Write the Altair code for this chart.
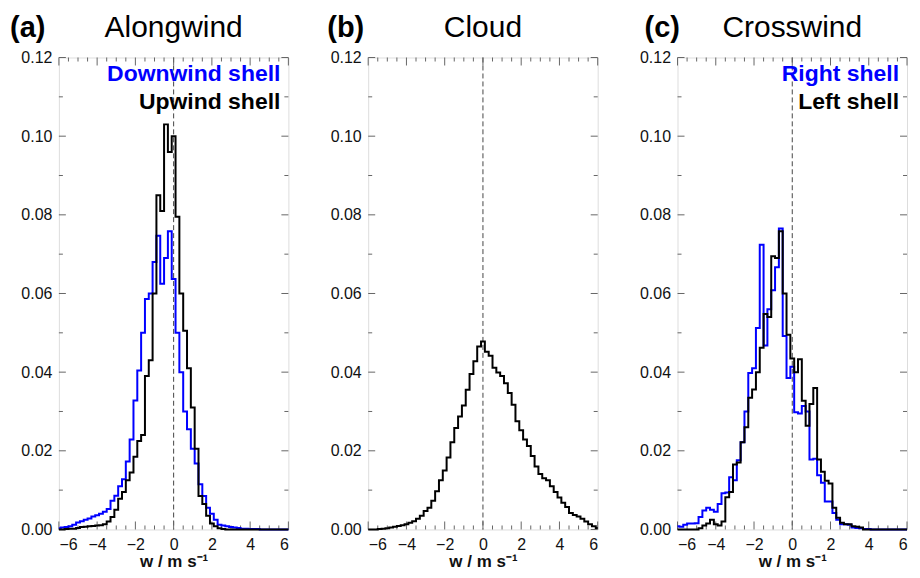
import altair as alt
import pandas as pd

# bin centres (w / m s^-1)
X = [-6.0, -5.8, -5.6, -5.4, -5.2, -5.0, -4.8, -4.6, -4.4, -4.2,
     -4.0, -3.8, -3.6, -3.4, -3.2, -3.0, -2.8, -2.6, -2.4, -2.2,
     -2.0, -1.8, -1.6, -1.4, -1.2, -1.0, -0.8, -0.6, -0.4, -0.2,
     0.0,
     0.2, 0.4, 0.6, 0.8, 1.0, 1.2, 1.4, 1.6, 1.8, 2.0,
     2.2, 2.4, 2.6, 2.8, 3.0, 3.2, 3.4, 3.6, 3.8, 4.0,
     4.2, 4.4, 4.6, 4.8, 5.0, 5.2, 5.4, 5.6, 5.8, 6.0]

# (a) Alongwind
A_UPWIND = [0, 0, 0.0001, 0.0002, 0.0002, 0.0004, 0.0006, 0.0007, 0.0008, 0.0009,
            0.001, 0.0011, 0.0013, 0.002, 0.0032, 0.005, 0.0078, 0.0095, 0.0125, 0.0145,
            0.0185, 0.0225, 0.024, 0.039, 0.043, 0.060, 0.085, 0.081, 0.103, 0.096,
            0.100,
            0.0795, 0.060, 0.0505, 0.041, 0.031, 0.0205, 0.0085, 0.0065, 0.0035, 0.0015,
            0.0008, 0.0003, 0.0001, 0, 0, 0, 0, 0, 0, 0,
            0, 0, 0, 0, 0, 0, 0, 0, 0, 0]
A_DOWNWIND = [0.0003, 0.0005, 0.0006, 0.0008, 0.0012, 0.0018, 0.0021, 0.0025, 0.0028, 0.0033,
              0.0036, 0.004, 0.0045, 0.0052, 0.0073, 0.0086, 0.011, 0.0128, 0.0173, 0.0229,
              0.0328, 0.0404, 0.050, 0.0586, 0.060, 0.068, 0.0747, 0.0625, 0.069, 0.0758,
              0.0637,
              0.050, 0.040, 0.030, 0.0255, 0.0205, 0.0168, 0.0115, 0.0085, 0.0055, 0.004,
              0.0025, 0.0012, 0.001, 0.0008, 0.0006, 0.0005, 0.0004, 0.0002, 0.0002, 0.0001,
              0.0001, 0.0001, 0, 0, 0, 0, 0, 0, 0, 0]

# (b) Cloud
B_CLOUD = [0, 0, 0, 0.0001, 0.0002, 0.0003, 0.0005, 0.0007, 0.0009, 0.0011,
           0.0013, 0.0017, 0.0021, 0.0027, 0.0035, 0.0047, 0.0055, 0.0073, 0.0097, 0.0125,
           0.015, 0.0183, 0.0222, 0.0258, 0.0287, 0.0315, 0.0355, 0.0395, 0.0428, 0.0465,
           0.0478,
           0.0452, 0.0442, 0.0411, 0.0399, 0.039, 0.0372, 0.0347, 0.0317, 0.0275, 0.0252,
           0.0229, 0.0212, 0.0187, 0.016, 0.0141, 0.013, 0.0125, 0.011, 0.0095, 0.0081,
           0.0068, 0.0057, 0.0042, 0.0037, 0.0033, 0.0027, 0.002, 0.0013, 0.0008, 0.0004]

# (c) Crosswind
C_RIGHT = [0.0008, 0.0007, 0.0012, 0.0015, 0.0015, 0.0016, 0.0032, 0.0048, 0.0055, 0.005,
           0.0045, 0.0065, 0.0092, 0.0094, 0.0133, 0.0125, 0.0176, 0.0222, 0.030, 0.0398,
           0.041, 0.0512, 0.0724, 0.0468, 0.056, 0.0608, 0.0667, 0.0765, 0.0492, 0.0385,
           0.0414,
           0.0298, 0.0295, 0.0314, 0.030, 0.0178, 0.018, 0.0138, 0.0119, 0.0071, 0.0071,
           0.0042, 0.0025, 0.0013, 0.0013, 0.0012, 0.0005, 0.0004, 0.0003, 0.0001, 0.0001,
           0, 0, 0, 0, 0, 0, 0, 0, 0, 0]
C_LEFT = [0, 0, 0, 0, 0, 0, 0.0003, 0.001, 0.0015, 0.0025,
          0.0013, 0.001, 0.002, 0.0082, 0.0095, 0.0165, 0.017, 0.0222, 0.026, 0.0335,
          0.0356, 0.040, 0.0462, 0.0548, 0.054, 0.0695, 0.069, 0.0758, 0.060, 0.0495,
          0.0435,
          0.040, 0.0433, 0.0327, 0.0264, 0.0319, 0.036, 0.0178, 0.0147, 0.0124, 0.0117,
          0.0055, 0.003, 0.0017, 0.0013, 0.0013, 0.0008, 0.0007, 0.0005, 0, 0,
          0, 0, 0, 0, 0, 0, 0, 0, 0, 0]

X_LABELS = [-6, -4, -2, 0, 2, 4, 6]
X_MINOR = [-5.5, -5, -4.5, -3.5, -3, -2.5, -1.5, -1, -0.5,
           0.5, 1, 1.5, 2.5, 3, 3.5, 4.5, 5, 5.5]
Y_LABELS = [0.0, 0.02, 0.04, 0.06, 0.08, 0.10, 0.12]
Y_MINOR = [0.01, 0.03, 0.05, 0.07, 0.09, 0.11]

W, H = 230, 473
BLUE = "#0000ff"
FRAME = "#666666"
FONT = "Liberation Sans"

xs = alt.Scale(domain=[-6, 6], nice=False, zero=False)
ys = alt.Scale(domain=[0, 0.12], nice=False, zero=False)
xaxis = alt.Axis(values=X_LABELS, title="w / m s⁻¹", ticks=False, domain=False, grid=False,
                 labelFontSize=16, labelPadding=7, labelColor="#111", labelFont=FONT,
                 titleFontSize=17, titleFontWeight="bold", titleColor="#111", titleFont=FONT,
                 titlePadding=1)
yaxis = alt.Axis(values=Y_LABELS, format=".2f", title=None, ticks=False, domain=False, grid=False,
                 labelFontSize=16, labelPadding=7, labelColor="#111", labelFont=FONT)


def ticks_layers():
    layers = []
    xmaj = pd.DataFrame({"t": X_LABELS})
    xmin = pd.DataFrame({"t": X_MINOR})
    ymaj = pd.DataFrame({"t": Y_LABELS})
    ymin = pd.DataFrame({"t": Y_MINOR})
    for df, ln in ((xmaj, 8), (xmin, 4)):
        layers.append(alt.Chart(df).mark_rule(color=FRAME, strokeWidth=1).encode(
            x=alt.X("t:Q", scale=xs, axis=xaxis), y=alt.value(H), y2=alt.value(H - ln)))
        layers.append(alt.Chart(df).mark_rule(color=FRAME, strokeWidth=1).encode(
            x=alt.X("t:Q", scale=xs, axis=xaxis), y=alt.value(0), y2=alt.value(ln)))
    for df, ln in ((ymaj, 7), (ymin, 4)):
        layers.append(alt.Chart(df).mark_rule(color=FRAME, strokeWidth=1).encode(
            y=alt.Y("t:Q", scale=ys, axis=yaxis), x=alt.value(0), x2=alt.value(ln)))
        layers.append(alt.Chart(df).mark_rule(color=FRAME, strokeWidth=1).encode(
            y=alt.Y("t:Q", scale=ys, axis=yaxis), x=alt.value(W), x2=alt.value(W - ln)))
    return layers


def line(values, color):
    df = pd.DataFrame({"x": X, "v": values})
    return alt.Chart(df).mark_line(interpolate="step", color=color, strokeWidth=2).encode(
        x=alt.X("x:Q", scale=xs, axis=xaxis), y=alt.Y("v:Q", scale=ys, axis=yaxis))


def text(label, x, y, size, color="#000", weight="bold", align="left"):
    return alt.Chart(pd.DataFrame({"s": [label]})).mark_text(
        align=align, baseline="alphabetic", fontSize=size, fontWeight=weight,
        font=FONT, color=color).encode(text="s:N", x=alt.value(x), y=alt.value(y))


def panel(title, letter, letter_dx, series, legend):
    zero = alt.Chart(pd.DataFrame({"z": [0]})).mark_rule(
        color="#444", strokeWidth=1, strokeDash=[5, 3]).encode(x=alt.X("z:Q", scale=xs, axis=xaxis))
    layers = [zero] + ticks_layers()
    for vals, col in series:
        layers.append(line(vals, col))
    for lab, col, yy in legend:
        layers.append(text(lab, W - 8, yy, 23, color=col, align="right"))
    layers.append(text(letter, letter_dx, -21, 29))
    layers.append(text(title, W / 2, -21, 30, weight="normal", align="center"))
    return alt.layer(*layers).properties(width=W, height=H)


pa = panel("Alongwind", "(a)", -49, [(A_DOWNWIND, BLUE), (A_UPWIND, "#000")],
           [("Downwind shell", BLUE, 24), ("Upwind shell", "#000", 52)])
pb = panel("Cloud", "(b)", -41, [(B_CLOUD, "#000")], [])
pc = panel("Crosswind", "(c)", -33, [(C_RIGHT, BLUE), (C_LEFT, "#000")],
           [("Right shell", BLUE, 24), ("Left shell", "#000", 52)])

chart = alt.hconcat(pa, pb, pc, spacing=80, bounds="flush").properties(
    padding={"left": 1, "top": 3, "right": 0, "bottom": 0}
).configure_view(stroke=FRAME, strokeWidth=1).configure(background="white")

chart.save("out.html", embed_options={"renderer": "svg", "actions": False})
